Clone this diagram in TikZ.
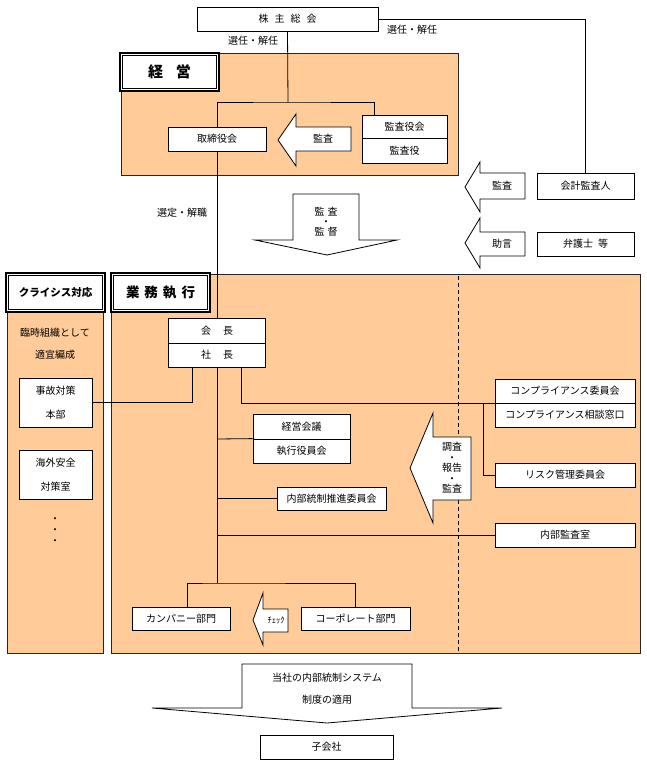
\documentclass[tikz,border=0pt]{standalone}
\usepackage{fontspec}
\setmainfont{Noto Sans CJK JP}
\definecolor{peach}{RGB}{255,204,153}
\begin{document}
\begin{tikzpicture}[x=1pt,y=-1pt,
  box/.style={draw, fill=white, line width=0.8pt, inner sep=0pt, font=\fontsize{10}{12}\selectfont, align=center},
  box2/.style={box, font=\fontsize{10}{24}\selectfont},
  region/.style={draw=black!85, fill=peach, line width=1pt},
  lbl/.style={draw, fill=white, line width=1.1pt, inner sep=0pt,
    path picture={\draw[line width=0.7pt] ([shift={(2.6pt,-2.6pt)}]path picture bounding box.north west) rectangle ([shift={(-2.6pt,2.6pt)}]path picture bounding box.south east);}},
  conn/.style={line width=0.8pt},
  barrow/.style={draw, fill=white, line width=0.8pt, line join=miter},
  txt/.style={inner sep=0pt, font=\fontsize{10}{12}\selectfont, align=center},
]
\fill[white] (0,0) rectangle (647,765);
\useasboundingbox (0,0) rectangle (647,765);

% regions
\draw[region] (121,54) rectangle (458,175);
\draw[region] (7,274) rectangle (103,653);
\draw[region] (111,274) rectangle (640,653);
\draw[line width=0.8pt, dash pattern=on 4pt off 3pt] (458,276) -- (458,652);

% label boxes
\node[lbl, minimum width=99pt, minimum height=38pt, font=\fontsize{15}{18}\selectfont\bfseries] (keieiL) at (169.5,72) {経\hspace{13pt}営};
\node[lbl, minimum width=99pt, minimum height=39pt, font=\fontsize{10.5}{12}\selectfont\bfseries] (crisisL) at (55.5,292.5) {クライシス対応};
\node[lbl, minimum width=99pt, minimum height=39pt, font=\fontsize{13.5}{16}\selectfont\bfseries] (gyomuL) at (160.5,292.5) {業\hspace{5pt}務\hspace{5pt}執\hspace{5pt}行};

% boxes
\node[box, minimum width=181pt, minimum height=24pt] (kabu) at (287.5,19) {株\hspace{6pt}主\hspace{6pt}総\hspace{6pt}会};
\node[box, minimum width=98pt, minimum height=24pt] (tori) at (217,139) {取締役会};
\node[box, minimum width=85pt, minimum height=23pt] (kansayakukai) at (404.5,126.5) {監査役会};
\node[box, minimum width=85pt, minimum height=25pt] (kansayaku) at (404.5,150.5) {監査役};
\node[box, minimum width=97pt, minimum height=26pt] (kaikei) at (585.5,186) {会計監査人};
\node[box, minimum width=97pt, minimum height=24pt] (bengoshi) at (585.5,244) {弁護士\hspace{5pt}等};
\node[box, minimum width=97pt, minimum height=25pt] (kaicho) at (217,330.5) {会\hspace{12pt}長};
\node[box, minimum width=97pt, minimum height=24pt] (shacho) at (217,355) {社\hspace{12pt}長};
\node[box2, minimum width=73pt, minimum height=49pt] (jiko) at (55.5,402.5) {事故対策\\本部};
\node[box2, minimum width=73pt, minimum height=49pt] (kaigai) at (55.5,474.5) {海外安全\\対策室};
\node[box, minimum width=140pt, minimum height=24pt] (comp1) at (565,391) {コンプライアンス委員会};
\node[box, minimum width=140pt, minimum height=24pt] (comp2) at (565,415) {コンプライアンス相談窓口};
\node[box, minimum width=140pt, minimum height=24pt] (risk) at (565,475) {リスク管理委員会};
\node[box, minimum width=140pt, minimum height=24pt] (kansashitsu) at (565,535) {内部監査室};
\node[box, minimum width=97pt, minimum height=25pt] (keieikaigi) at (301.5,426.5) {経営会議};
\node[box, minimum width=97pt, minimum height=24pt] (shikko) at (301.5,451) {執行役員会};
\node[box, minimum width=109pt, minimum height=23pt] (naibu) at (331.5,498.5) {内部統制推進委員会};
\node[box, minimum width=98pt, minimum height=23pt] (company) at (181,618.5) {カンパニー部門};
\node[box, minimum width=109pt, minimum height=23pt] (corp) at (355.5,618.5) {コーポレート部門};
\node[box, minimum width=133pt, minimum height=24pt] (kogaisha) at (326.5,747) {子会社};

% free text
\node[txt] (sennin1) at (253,41) {選任・解任};
\node[txt] (sennin2) at (412,30) {選任・解任};
\node[txt] (sentei) at (182,213) {選定・解職};
\node[txt, font=\fontsize{10}{22}\selectfont] (rinji) at (55,344) {臨時組織として\\適宜編成};
\node[txt] (dots) at (55,531.5) {・\\[-1pt]・\\[-1pt]・};

% connectors
\coordinate (j1) at (288,102);
\coordinate (k1) at (374,115);
\draw[conn] (kabu.south) -- (j1);
\draw[conn] (tori.north) |- (j1) -| (k1);
\draw[conn] (kabu.east) -| (kaikei.north);
\draw[conn] (tori.south) -- (kaicho.north);
\coordinate (s1) at (192,367);
\coordinate (s2) at (241,367);
\draw[conn] (jiko.east) -| (s1);
\draw[conn] (s2) |- (comp1.south west);
\coordinate (r1) at (483,403);
\draw[conn] (r1) |- (risk.west);
\coordinate (t1) at (217,583);
\coordinate (t2) at (217,439);
\coordinate (t3) at (217,498.5);
\coordinate (t4) at (217,535);
\draw[conn] (shacho.south) -- (t1);
\draw[conn] (t2) -- (shikko.north west);
\draw[conn] (t3) -- (naibu.west);
\draw[conn] (t4) -- (kansashitsu.west);
\coordinate (c1) at (187,607);
\draw[conn] (c1) |- (t1) -| (corp.north);

% block arrows
\draw[barrow] (278,140) -- (296,114) -- (296,127) -- (351,127) -- (351,151) -- (296,151) -- (296,166) -- cycle;
\node[txt] (a1) at (323,139) {監査};
\draw[barrow] (465,187) -- (480,162) -- (480,173) -- (525,173) -- (525,199) -- (480,199) -- (480,212) -- cycle;
\node[txt] (a2) at (502,186) {監査};
\draw[barrow] (465,243) -- (480,218) -- (480,232) -- (525,232) -- (525,256) -- (480,256) -- (480,268) -- cycle;
\node[txt] (a3) at (502,244) {助言};
\draw[barrow] (293,194) -- (359,194) -- (359,240) -- (397,240) -- (327,255) -- (255,240) -- (293,240) -- cycle;
\node[txt, font=\fontsize{10}{10}\selectfont] (a4) at (326,222) {監\hspace{3pt}査\\・\\監\hspace{3pt}督};
\draw[barrow] (410,468) -- (433,413) -- (433,437) -- (471,437) -- (471,500) -- (433,500) -- (433,523) -- cycle;
\node[txt, font=\fontsize{10}{10.5}\selectfont] (a5) at (452,468) {調査\\・\\報告\\・\\監査};
\draw[barrow] (253,620) -- (263,593) -- (263,609) -- (288,609) -- (288,632) -- (263,632) -- (263,645) -- cycle;
\node[txt, font=\fontsize{8.5}{10}\selectfont] (a6) at (276,620) {ﾁｪｯｸ};
\draw[barrow] (242,664) -- (412,664) -- (412,708) -- (502,708) -- (327,723) -- (152,708) -- (242,708) -- cycle;
\node[txt, font=\fontsize{10}{22}\selectfont] (a7) at (327,689) {当社の内部統制システム\\制度の適用};
\end{tikzpicture}
\end{document}
